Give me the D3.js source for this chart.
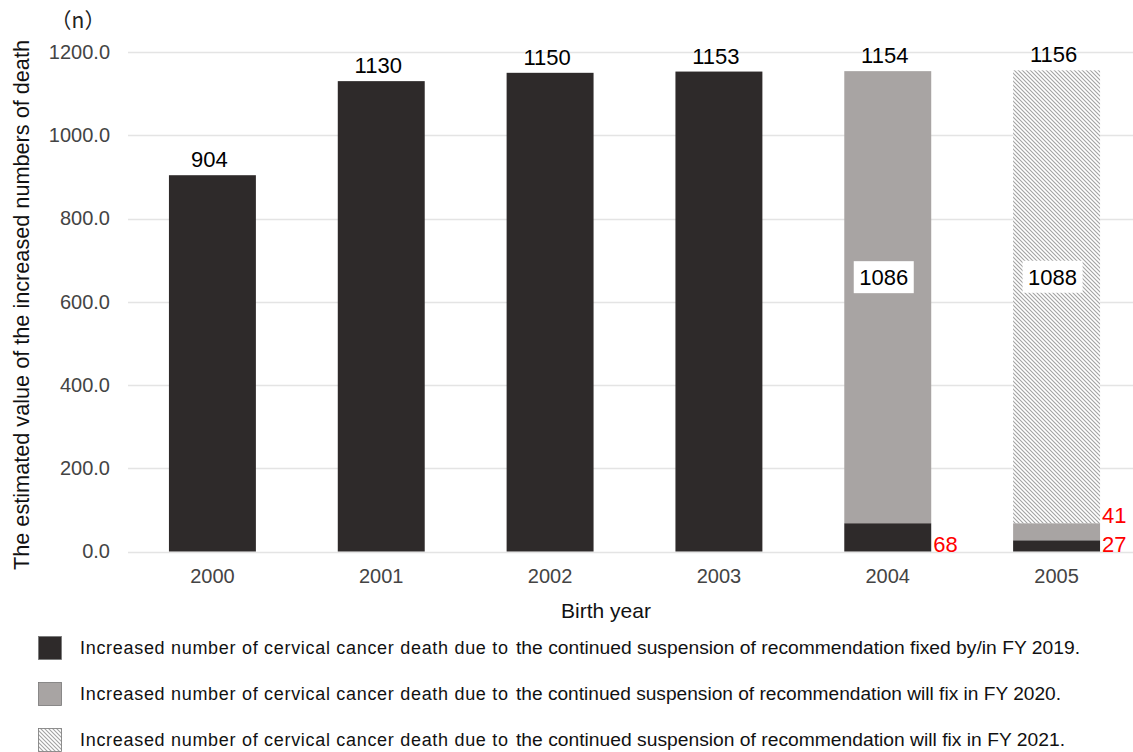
<!DOCTYPE html>
<html>
<head>
<meta charset="utf-8">
<script src="https://cdn.jsdelivr.net/npm/d3@7"></script>
<style>
  html, body { margin: 0; padding: 0; background: #fff; }
  svg { display: block; font-family: Arial, "Liberation Sans", sans-serif; }
</style>
</head>
<body>
<svg id="chart" width="1133" height="752"></svg>
<script>
// Birth years on the x axis
const years = ["2000", "2001", "2002", "2003", "2004", "2005"];
// Increased deaths, by the fiscal year in which the suspension is fixed
const fixedFY2019 = [904, 1130, 1150, 1153, 68, 27];
const fixFY2020 = [0, 0, 0, 0, 1086, 41];
const fixFY2021 = [0, 0, 0, 0, 0, 1088];
const yTicks = [0, 200, 400, 600, 800, 1000, 1200];
const seriesKeys = ["fy2019", "fy2020", "fy2021"];
const legendLead = "Increased  number  of  cervical  cancer  death  due  to";
const legendTail = [
  "the continued suspension of recommendation fixed by/in FY 2019.",
  "the continued suspension of recommendation will fix in FY 2020.",
  "the continued suspension of recommendation will fix in FY 2021."
];

const rows = years.map((yr, i) => ({
  year: yr, fy2019: fixedFY2019[i], fy2020: fixFY2020[i], fy2021: fixFY2021[i]
}));
const totals = rows.map(r => r.fy2019 + r.fy2020 + r.fy2021);

const svg = d3.select("#chart");
const W = 1133;

// hatch pattern for the FY 2021 segment
const defs = svg.append("defs");
const pat = defs.append("pattern")
  .attr("id", "hatch").attr("patternUnits", "userSpaceOnUse")
  .attr("width", 4).attr("height", 4);
pat.append("rect").attr("width", 4).attr("height", 4).attr("fill", "#fff");
pat.append("path")
  .attr("d", "M0,0 L4,4 M-1,3 L1,5 M3,-1 L5,1")
  .attr("stroke", "#a2a2a2").attr("stroke-width", 1.1);

const fills = { fy2019: "#2e2a2a", fy2020: "#a8a4a3", fy2021: "url(#hatch)" };

const x = d3.scaleBand().domain(years).range([128, 1141]).paddingInner(0.485).paddingOuter(0.2425);
const y = d3.scaleLinear().domain([0, 1200]).range([551.5, 52]);

// grid lines
svg.append("g").selectAll("line").data(yTicks).join("line")
  .attr("x1", 128).attr("x2", W)
  .attr("y1", d => Math.round(y(d)) + 0.5).attr("y2", d => Math.round(y(d)) + 0.5)
  .attr("stroke", "#e4e4e4").attr("stroke-width", 1.5);

// y axis tick labels
const yAxis = svg.append("g").attr("transform", "translate(128,0)")
  .call(d3.axisLeft(y).tickValues(yTicks).tickFormat(d3.format(".1f")).tickSize(0).tickPadding(18));
yAxis.select(".domain").remove();
yAxis.selectAll("text").attr("font-size", 20).attr("fill", "#444").attr("font-family", "Arial, 'Liberation Sans', sans-serif");

// x axis tick labels
const xAxis = svg.append("g").attr("transform", "translate(0,551.5)")
  .call(d3.axisBottom(x).tickSize(0).tickPadding(17));
xAxis.select(".domain").remove();
xAxis.selectAll("text").attr("font-size", 20).attr("fill", "#444").attr("font-family", "Arial, 'Liberation Sans', sans-serif");

// stacked bars
const stack = d3.stack().keys(seriesKeys)(rows);
svg.append("g").selectAll("g").data(stack).join("g")
  .attr("fill", s => fills[s.key])
  .selectAll("rect").data(s => s.map(d => ({ d, key: s.key }))).join("rect")
  .attr("x", o => x(o.d.data.year))
  .attr("width", x.bandwidth())
  .attr("y", o => y(o.d[1]))
  .attr("height", o => y(o.d[0]) - y(o.d[1]));

// total labels above bars
svg.append("g").selectAll("text").data(rows).join("text")
  .attr("x", (r) => x(r.year) + x.bandwidth() / 2 - 3)
  .attr("y", (r, i) => y(totals[i]) - 8)
  .attr("text-anchor", "middle").attr("font-size", 22).attr("fill", "#000")
  .text((r, i) => totals[i]);

// boxed labels for the large later-fixed segments
const big = [];
stack.forEach(s => s.forEach(d => {
  if (s.key !== "fy2019" && d[1] - d[0] > 500) big.push({ year: d.data.year, v: d[1] - d[0], mid: (d[0] + d[1]) / 2 });
}));
const bg = svg.append("g").selectAll("g").data(big).join("g")
  .attr("transform", b => `translate(${x(b.year) + x.bandwidth() / 2 - 4},${y(b.mid) - 20})`);
bg.append("rect").attr("x", -30).attr("y", -16).attr("width", 60).attr("height", 32).attr("fill", "#fff");
bg.append("text").attr("text-anchor", "middle").attr("dy", "0.36em")
  .attr("font-size", 22).attr("fill", "#000").text(b => b.v);

// red labels for the small segments
const small = [];
stack.forEach(s => s.forEach(d => {
  const v = d[1] - d[0];
  if (v > 0 && v < 100 && (d.data.fy2020 + d.data.fy2021) > 0) small.push({ year: d.data.year, v, lo: d[0], hi: d[1] });
}));
svg.append("g").selectAll("text").data(small).join("text")
  .attr("x", s => x(s.year) + x.bandwidth() + 2)
  .attr("y", s => s.lo === 0 ? y(0) : y(s.hi))
  .attr("font-size", 22).attr("fill", "#ff0000")
  .text(s => s.v);

// axis titles
svg.append("text")
  .attr("transform", "translate(29,305) rotate(-90)")
  .attr("text-anchor", "middle").attr("font-size", 21.5).attr("fill", "#111")
  .attr("textLength", 530).attr("lengthAdjust", "spacingAndGlyphs")
  .text("The estimated value of the increased numbers of death");
svg.append("text")
  .attr("x", 78).attr("y", 28).attr("text-anchor", "middle")
  .attr("font-size", 21).attr("fill", "#222")
  .attr("font-family", "'Noto Sans CJK JP', sans-serif")
  .text("（n）");
svg.append("text")
  .attr("x", 606).attr("y", 618).attr("text-anchor", "middle")
  .attr("font-size", 21).attr("fill", "#111")
  .text("Birth year");

// legend
const legendFills = ["#2e2a2a", "#a8a4a3", "url(#hatch)"];
const tailLen = [564, 545, 549];
const lg = svg.append("g").selectAll("g").data(seriesKeys).join("g")
  .attr("transform", (k, i) => `translate(0,${648 + i * 46})`);
lg.append("rect").attr("x", 38.5).attr("y", -11.5).attr("width", 23).attr("height", 23)
  .attr("fill", (k, i) => legendFills[i]).attr("stroke", "#777").attr("stroke-width", 0.8);
lg.append("text").attr("x", 80).attr("y", 6)
  .attr("font-size", 18).attr("fill", "#111")
  .attr("textLength", 428).attr("lengthAdjust", "spacing")
  .text(legendLead);
lg.append("text").attr("x", 516).attr("y", 6)
  .attr("font-size", 17.5).attr("fill", "#111")
  .attr("textLength", (k, i) => tailLen[i]).attr("lengthAdjust", "spacingAndGlyphs")
  .text((k, i) => legendTail[i]);
</script>
</body>
</html>
